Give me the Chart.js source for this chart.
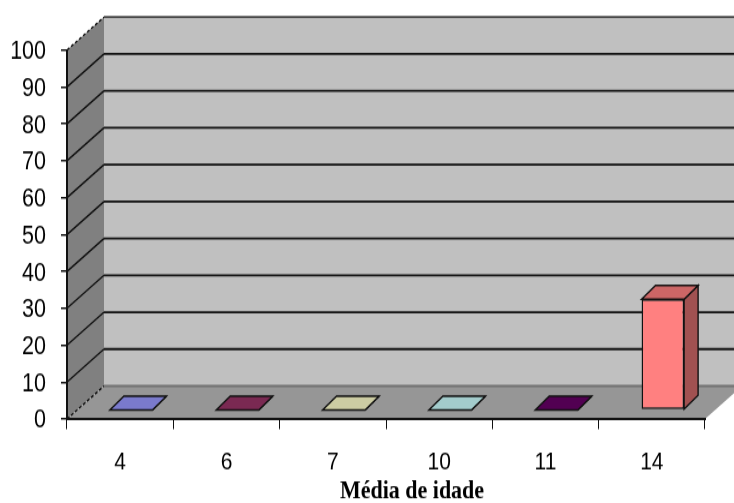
<!DOCTYPE html>
<html>
<head>
<meta charset="utf-8">
<script src="https://cdn.jsdelivr.net/npm/chart.js@4"></script>
<style>
  html, body { margin: 0; background: #fff; }
  canvas { display: block; filter: blur(0.3px); }
</style>
</head>
<body>
<!-- the original is a bitmap stretched vertically, so the canvas gets stretched too -->
<canvas id="chart" width="734" height="419" style="width:734px;height:503px"></canvas>
<script>
const categories = ['4', '6', '7', '10', '11', '14'];
const values = [0, 0, 0, 0, 0, 30];
const barColors = ['#9999ff', '#993366', '#ffffcc', '#ccffff', '#660066', '#ff8080'];
const axisTitle = 'Média de idade';

// fake 3D depth, in canvas pixels
const wallDepth = { x: 37, y: -27.5 };
const barShift = { x: 11, y: -7.5 };
const barDepth = { x: 14, y: -11.5 };

function shade(hex, f) {
  const n = parseInt(hex.slice(1), 16);
  const c = [n >> 16, (n >> 8) & 255, n & 255].map(v => Math.round(v * f));
  return `rgb(${c[0]},${c[1]},${c[2]})`;
}

function poly(ctx, pts, fill, stroke, lw) {
  ctx.beginPath();
  pts.forEach((p, i) => i ? ctx.lineTo(p[0], p[1]) : ctx.moveTo(p[0], p[1]));
  ctx.closePath();
  if (fill) { ctx.fillStyle = fill; ctx.fill(); }
  if (stroke) { ctx.strokeStyle = stroke; ctx.lineWidth = lw; ctx.stroke(); }
}

const box3d = {
  id: 'box3d',
  beforeDraw(chart) {
    const { ctx, chartArea: a, scales: { y } } = chart;
    const dx = wallDepth.x, dy = wallDepth.y;
    ctx.save();
    // back wall, side wall, floor
    poly(ctx, [[a.left + dx, a.top + dy], [a.right + dx, a.top + dy], [a.right + dx, a.bottom + dy], [a.left + dx, a.bottom + dy]], '#c0c0c0');
    poly(ctx, [[a.left, a.top], [a.left + dx, a.top + dy], [a.left + dx, a.bottom + dy], [a.left, a.bottom]], '#808080');
    poly(ctx, [[a.left, a.bottom], [a.right, a.bottom], [a.right + dx, a.bottom + dy], [a.left + dx, a.bottom + dy]], '#969696');

    y.ticks.forEach(t => {
      const py = y.getPixelForValue(t.value);
      const edge = t.value === 0 || t.value === 100;
      // line on the side wall
      ctx.beginPath();
      ctx.setLineDash(edge ? [3, 2] : []);
      ctx.moveTo(a.left, py);
      ctx.lineTo(a.left + dx, py + dy);
      ctx.strokeStyle = '#111';
      ctx.lineWidth = 1.4;
      ctx.stroke();
      ctx.setLineDash([]);
      // line on the back wall
      ctx.beginPath();
      ctx.moveTo(a.left + dx, py + dy);
      ctx.lineTo(a.right + dx, py + dy);
      ctx.strokeStyle = t.value === 0 ? '#707070' : (t.value === 100 ? '#444' : '#111');
      ctx.lineWidth = 1.8;
      ctx.stroke();
    });
    ctx.restore();
  },
  beforeDatasetsDraw(chart) {
    const { ctx } = chart;
    ctx.save();
    ctx.translate(barShift.x, barShift.y);
    chart.getDatasetMeta(0).data.forEach((bar, i) => {
      const l = bar.x - bar.width / 2, r = bar.x + bar.width / 2;
      const t = bar.y, b = bar.base;
      const dx = barDepth.x, dy = barDepth.y;
      poly(ctx, [[r, t], [r + dx, t + dy], [r + dx, b + dy], [r, b]], shade(barColors[i], 0.63), '#111', 1.4);
      poly(ctx, [[l, t], [r, t], [r + dx, t + dy], [l + dx, t + dy]], shade(barColors[i], 0.8), '#111', 1.4);
    });
  },
  afterDatasetsDraw(chart) {
    chart.ctx.restore();
  },
  afterDraw(chart) {
    const { ctx } = chart;
    ctx.save();
    ctx.font = 'bold 22px "Liberation Serif"';
    ctx.fillStyle = '#000';
    ctx.textAlign = 'center';
    ctx.textBaseline = 'middle';
    ctx.fillText(axisTitle, 412, 409.5);
    ctx.restore();
  }
};

new Chart(document.getElementById('chart'), {
  type: 'bar',
  data: {
    labels: categories,
    datasets: [{
      data: values,
      backgroundColor: barColors,
      borderColor: '#111',
      borderWidth: 1.5,
      borderSkipped: false,
      categoryPercentage: 1,
      barPercentage: 0.4,
      clip: false
    }]
  },
  plugins: [box3d],
  options: {
    responsive: false,
    animation: false,
    layout: { padding: { top: 41.7, right: 29 } },
    plugins: { legend: { display: false }, title: { display: false }, tooltip: { enabled: false } },
    scales: {
      x: {
        afterFit(s) { s.height = 70; },
        grid: { offset: true, drawOnChartArea: false, tickLength: 8.5, color: '#111', lineWidth: 1 },
        border: { color: '#111', width: 2 },
        ticks: {
          padding: 15.5, maxRotation: 0, autoSkip: false, color: '#000',
          font: { family: '"Liberation Sans"', size: 21 }
        }
      },
      y: {
        min: 0, max: 100,
        afterFit(s) { s.width = 67; },
        grid: { drawOnChartArea: false, tickLength: 6, color: '#111', lineWidth: 1.5 },
        border: { color: '#111', width: 2 },
        ticks: {
          stepSize: 10, padding: 15, color: '#000', labelOffset: 1.5,
          font: { family: '"Liberation Sans"', size: 21.5 }
        }
      }
    }
  }
});
</script>
</body>
</html>
